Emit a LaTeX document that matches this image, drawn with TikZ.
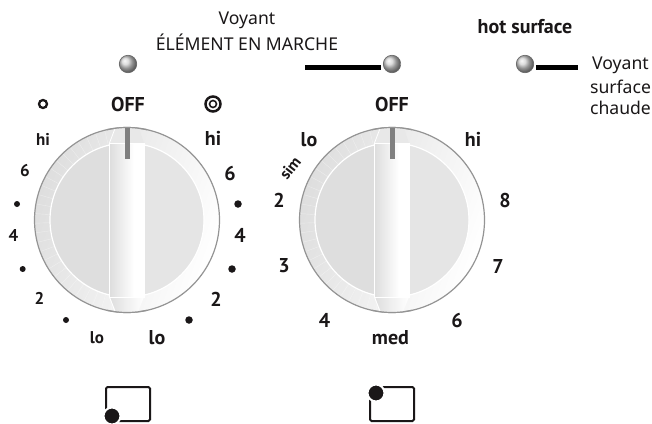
\documentclass[tikz,border=0pt]{standalone}
\usepackage{fontspec}
\setmainfont{Noto Sans}
\newfontfamily\dialfont{PT Sans}
\usetikzlibrary{calc}
\definecolor{inkc}{HTML}{1A1718}
\tikzset{
  plain/.style={font=\fontsize{17.6}{18}\selectfont,inner sep=0pt,text=inkc},
  dial/.style={font=\dialfont\bfseries\fontsize{20}{20}\selectfont,inner sep=0pt,text=inkc},
  dialsmall/.style={font=\dialfont\bfseries\fontsize{17}{17}\selectfont,inner sep=0pt,text=inkc},
  dot/.style={circle,fill=inkc,inner sep=0pt,minimum size=#1},
  led/.style={circle,inner sep=0pt,minimum size=17.5pt,draw=black!60,line width=.6pt,ball color=black!18,shading=ball,outer sep=2.5pt},
  bar/.style={line width=4.5pt,draw=black},
  panel/.style={line width=2pt,draw=inkc,rounded corners=1.5pt},
}
\newcommand{\knobat}[1]{%
  \begin{scope}[shift={(#1,220)}]
    % ring
    \shade[left color=black!13,right color=white,shading angle=70] (0,0) circle (92.5);
    \foreach \a in {100,106,...,260}{\draw[white,opacity=.4,line width=.4pt] (\a:77) -- (\a:92) ;}
    % dial face
    \fill[black!13] (0,0) circle (76.5);
    \begin{scope}
      \clip (0,-100) rectangle (100,100);
      \fill[black!10] (0,0) circle (76.5);
    \end{scope}
    \draw[white,line width=1.2pt] (0,0) circle (77);
    \draw[black!42,line width=1.2pt] (0,0) circle (92.5);
    % handle
    \fill[black!9] (-17,-77) -- (-12,-91.6) .. controls (-4,-92.6) and (4,-92.6) .. (12,-91.6) -- (17,-77) -- cycle;
    \shade[left color=black!13,right color=white,middle color=black!6] (-17,77) -- (-11,91.8) .. controls (-4,92.6) and (4,92.6) .. (11,91.8) -- (17,77) -- cycle;
    \shade[left color=black!13,right color=white] (-17,-77) rectangle (7,77);
    \fill[white] (7,-77) rectangle (18,77);
    \draw[white,line width=1pt] (-17.5,-77) -- (-17.5,77);
    \draw[white,line width=.8pt] (-17.5,-77) -- (17.5,-77);
    \draw[white,line width=.8pt] (-17.5,77) -- (17.5,77);
    \draw[white,line width=.8pt] (-17.5,-77) -- (-12,-91.5);
    \draw[white,line width=.8pt] (-17.5,77) -- (-12,91.5);
    \draw[black!42,line width=1.2pt] (-20,-90.3) arc[start angle=-102.5,end angle=-77.5,radius=92.5];
    \draw[black!42,line width=1.2pt] (-20,90.3) arc[start angle=102.5,end angle=77.5,radius=92.5];
    \fill[black!50] (-2.5,-92) rectangle (2.5,-61);
  \end{scope}}
\begin{document}
\begin{tikzpicture}[x=1pt,y=-1pt]
\useasboundingbox[fill=white] (0,0) rectangle (652,423);
\knobat{127}
\knobat{392}
% header text
\node[plain] (t1) at (247,20) {Voyant};
\node[plain] (t2) at (247,42) {ÉLÉMENT EN MARCHE};
\node[dialsmall,font=\dialfont\bfseries\fontsize{20}{20}\selectfont] (hot) at (525,27) {hot surface};
\node[plain] (t3) at (620.5,65) {Voyant};
\node[plain] (t4) at (620.5,86.5) {surface};
\node[plain] (t5) at (620.5,108) {chaude};
% leds
\node[led] (led1) at (128,64) {};
\node[led] (led2) at (392,64) {};
\node[led] (led3) at (525,64) {};
\coordinate (c2) at (305,67.5);
\coordinate (c3) at (578,67.5);
\draw[bar] (c2) -- (c2 -| led2.west);
\draw[bar] (led3.east |- c3) -- (c3);
% left dial
\node[dial] (off1) at (128,104) {OFF};
\node[circle,draw=inkc,line width=2.3pt,minimum size=8pt,inner sep=0pt] (sym1) at (43,104) {};
\node[circle,draw=inkc,line width=2.5pt,minimum size=15pt,inner sep=0pt] (sym2) at (213,104) {};
\node[circle,draw=inkc,line width=1.6pt,minimum size=7pt,inner sep=0pt] (sym3) at (213,104) {};
\node[dialsmall] (a1) at (43,139) {hi};
\node[dial] (a2) at (213,138) {hi};
\node[dialsmall] (a3) at (25,171) {6};
\node[dial] (a4) at (230,173) {6};
\node[dot=6pt] (d1) at (17,204) {};
\node[dot=7.5pt] (d2) at (238,204) {};
\node[dialsmall] (a5) at (13.5,236) {4};
\node[dial] (a6) at (240,235) {4};
\node[dot=6pt] (d3) at (22.7,269) {};
\node[dot=7.5pt] (d4) at (232,269) {};
\node[dialsmall] (a7) at (39.5,298) {2};
\node[dial] (a8) at (216,299) {2};
\node[dot=6pt] (d5) at (66,320) {};
\node[dot=7.5pt] (d6) at (189,320) {};
\node[dialsmall] (a9) at (97,338) {lo};
\node[dial] (a10) at (157,338) {lo};
% right dial
\node[dial] (off2) at (392,104) {OFF};
\node[dial] (b1) at (309,140) {lo};
\node[dialsmall,rotate=52,font=\dialfont\bfseries\fontsize{16}{16}\selectfont] (b2) at (290,168) {sim};
\node[dial] (b3) at (279,200) {2};
\node[dial] (b4) at (473,139) {hi};
\node[dial] (b5) at (505,200) {8};
\node[dial] (b6) at (284,266) {3};
\node[dial] (b7) at (498,266) {7};
\node[dial] (b8) at (324.5,320) {4};
\node[dial] (b9) at (457,320) {6};
\node[dial] (b10) at (390.5,338) {med};
% panel pictograms
\draw[panel] (106,387) rectangle (150,421);
\draw[panel] (370,387) rectangle (414,421);
\node[dot=17pt,draw=white,line width=2pt] (p1) at (112,416) {};
\node[dot=17pt,draw=white,line width=2pt] (p2) at (376,393) {};
\end{tikzpicture}
\end{document}
